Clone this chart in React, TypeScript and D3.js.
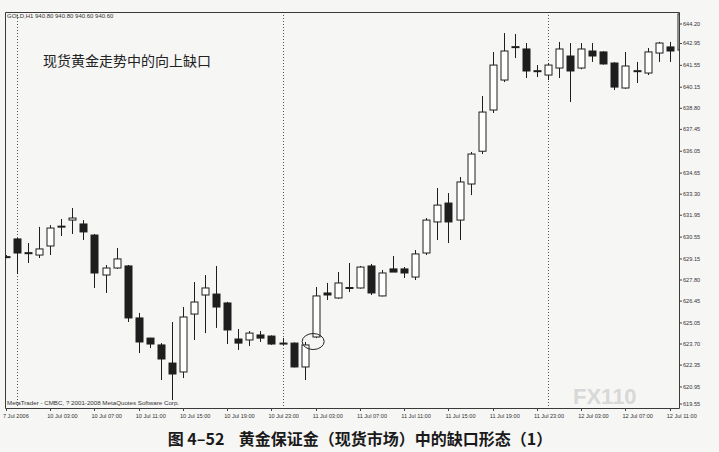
import React, { useRef, useEffect } from 'react';
import * as d3 from 'd3';

// hourly candles, index 0 = last bar of 7 Jul, index 1 = 10 Jul 00:00
const openPrices = [
  629.3, 630.43, 629.55, 629.4, 629.98, 631.2, 631.64, 631.39, 630.68, 628.12,
  628.57, 628.7, 625.37, 624.08, 623.64, 622.48, 621.91, 625.62, 626.84, 626.9,
  626.33, 624.02, 623.96, 624.28, 624.21, 623.76, 623.76, 622.23, 624.15, 626.97,
  626.65, 627.29, 627.29, 628.7, 626.78, 628.51, 628.51, 627.99, 629.53, 631.52,
  632.73, 631.64, 633.95, 636.05, 638.69, 640.61, 642.73, 642.6, 641.19, 640.93,
  641.38, 642.15, 641.38, 642.47, 642.41, 641.7, 640.1, 641.19, 641.06, 642.34,
  642.73, 642.53,
];
const highPrices = [
  629.4, 630.5, 630.17, 631.2, 631.32, 631.71, 632.41, 631.64, 630.75, 628.76,
  629.85, 628.76, 625.69, 624.1, 623.76, 625.11, 626.07, 627.67, 628.12, 628.7,
  626.4, 624.66, 624.53, 624.53, 624.25, 624.08, 623.8, 623.83, 627.35, 627.61,
  628.31, 628.89, 628.7, 628.83, 628.44, 629.34, 628.63, 629.72, 631.77, 633.69,
  633.37, 634.4, 636.0, 639.59, 642.41, 643.62, 643.56, 642.98, 641.57, 641.7,
  643.05, 642.98, 642.98, 642.98, 642.45, 641.75, 642.41, 641.77, 642.66, 643.05,
  643.05, 644.97,
];
const lowPrices = [
  629.2, 628.18, 628.89, 629.21, 629.4, 630.62, 630.75, 630.36, 627.29, 626.97,
  628.51, 625.11, 623.12, 623.44, 621.39, 620.11, 621.52, 623.96, 624.4, 624.73,
  623.7, 623.32, 623.57, 623.83, 623.65, 623.64, 622.2, 621.39, 624.08, 626.52,
  626.6, 627.03, 627.25, 626.84, 626.75, 628.31, 627.93, 627.8, 629.4, 630.36,
  630.17, 630.36, 633.24, 635.87, 638.5, 640.48, 642.02, 640.74, 640.8, 640.61,
  640.74, 639.2, 641.3, 641.77, 641.6, 639.97, 640.05, 640.42, 640.93, 641.77,
  641.77, 642.5,
];
const closePrices = [
  629.3, 629.53, 629.5, 629.79, 631.13, 631.25, 631.77, 630.88, 628.25, 628.57,
  629.15, 625.37, 623.83, 623.7, 622.74, 621.78, 625.43, 626.39, 627.29, 626.07,
  624.6, 623.76, 624.4, 624.08, 623.7, 623.76, 622.23, 623.64, 626.78, 626.84,
  627.61, 627.32, 628.63, 626.97, 628.25, 628.31, 628.25, 629.47, 631.64, 632.6,
  631.52, 634.08, 635.87, 638.56, 641.57, 642.47, 642.75, 641.19, 641.21, 641.57,
  642.6, 641.19, 642.6, 642.15, 641.64, 640.16, 641.51, 641.21, 642.41, 642.98,
  642.47, 644.84,
];

const xTickIndex = [0, 4, 8, 12, 16, 20, 24, 28, 32, 36, 40, 44, 48, 52, 56, 60];
const xTickLabels = [
  '7 Jul 2006', '10 Jul 03:00', '10 Jul 07:00', '10 Jul 11:00', '10 Jul 15:00',
  '10 Jul 19:00', '10 Jul 23:00', '11 Jul 03:00', '11 Jul 07:00', '11 Jul 11:00',
  '11 Jul 15:00', '11 Jul 19:00', '11 Jul 23:00', '12 Jul 03:00', '12 Jul 07:00',
  '12 Jul 11:00',
];
const daySeparators = [1, 25, 49];
const yTickLabels = [
  '644.20', '642.95', '641.55', '640.15', '638.80', '637.45', '636.05', '634.65',
  '633.30', '631.95', '630.55', '629.15', '627.80', '626.45', '625.05', '623.70',
  '622.35', '620.95', '619.55',
];
const gapBars = [27, 28];

const App = () => {
  const chartRef = useRef<SVGSVGElement | null>(null);
  const width = 719;
  const height = 452;
  const frame = { left: 5, right: 679, top: 12, bottom: 408 };

  useEffect(() => {
    document.body.style.margin = '0';
    if (!chartRef.current) return;
    const svg = d3.select(chartRef.current);
    svg.selectAll('*').remove();

    const xScale = d3.scaleLinear().domain([1, 49]).range([17, 548]);
    const yScale = d3.scaleLinear().domain([619.55, 644.2]).range([408.8, 24]);

    svg.append('rect').attr('width', width).attr('height', height).attr('fill', '#f6f6f5');

    svg
      .append('defs')
      .append('clipPath')
      .attr('id', 'plot-clip')
      .append('rect')
      .attr('x', frame.left)
      .attr('y', frame.top)
      .attr('width', frame.right - frame.left)
      .attr('height', frame.bottom - frame.top);

    // faint watermark, behind everything
    svg
      .append('text')
      .attr('x', 573)
      .attr('y', 404)
      .attr('font-size', 22)
      .attr('font-weight', 'bold')
      .attr('font-family', 'Liberation Sans, Arial, sans-serif')
      .attr('fill', '#d8d8d8')
      .text('FX110');

    // day separators
    svg
      .selectAll('.sep')
      .data(daySeparators)
      .enter()
      .append('line')
      .attr('x1', (d) => Math.round(xScale(d)) + 0.5)
      .attr('x2', (d) => Math.round(xScale(d)) + 0.5)
      .attr('y1', frame.top)
      .attr('y2', frame.bottom)
      .attr('stroke', '#555')
      .attr('stroke-dasharray', '1,2');

    // frame
    svg
      .append('path')
      .attr(
        'd',
        `M${frame.left + 0.5},${frame.bottom + 0.5} V${frame.top + 0.5} H${frame.right + 0.5} V${frame.bottom + 0.5} Z`
      )
      .attr('fill', 'none')
      .attr('stroke', '#3a3a3a');

    // candles
    const idx = d3.range(openPrices.length);
    const g = svg.append('g').attr('clip-path', 'url(#plot-clip)');
    const bodyW = 7;
    g.selectAll('.wick')
      .data(idx)
      .enter()
      .append('line')
      .attr('x1', (i) => Math.round(xScale(i)) + 0.5)
      .attr('x2', (i) => Math.round(xScale(i)) + 0.5)
      .attr('y1', (i) => yScale(highPrices[i]))
      .attr('y2', (i) => yScale(lowPrices[i]))
      .attr('stroke', '#1e1e1e')
      .attr('stroke-width', 1);
    g.selectAll('.body')
      .data(idx)
      .enter()
      .append('rect')
      .attr('x', (i) => Math.round(xScale(i)) - bodyW / 2 + 0.5)
      .attr('y', (i) => yScale(Math.max(openPrices[i], closePrices[i])))
      .attr('width', bodyW)
      .attr('height', (i) =>
        Math.max(1, Math.abs(yScale(openPrices[i]) - yScale(closePrices[i])))
      )
      .attr('fill', (i) => (closePrices[i] >= openPrices[i] ? '#ffffff' : '#1e1e1e'))
      .attr('stroke', '#1e1e1e')
      .attr('stroke-width', 1);

    // circle round the gap
    const gx = (xScale(gapBars[0]) + xScale(gapBars[1])) / 2 + 3;
    const gy = (yScale(highPrices[gapBars[0]]) + yScale(lowPrices[gapBars[1]])) / 2 + 1.5;
    svg
      .append('ellipse')
      .attr('cx', gx)
      .attr('cy', gy)
      .attr('rx', 11)
      .attr('ry', 8)
      .attr('fill', 'none')
      .attr('stroke', '#222')
      .attr('stroke-width', 1);

    // right price axis
    const yAxis = svg.append('g');
    yAxis
      .selectAll('line')
      .data(yTickLabels)
      .enter()
      .append('line')
      .attr('x1', frame.right)
      .attr('x2', frame.right + 3)
      .attr('y1', (d) => Math.min(yScale(+d), 404))
      .attr('y2', (d) => Math.min(yScale(+d), 404))
      .attr('stroke', '#444');
    yAxis
      .selectAll('text')
      .data(yTickLabels)
      .enter()
      .append('text')
      .attr('x', frame.right + 4)
      .attr('y', (d) => Math.min(yScale(+d), 404))
      .attr('dy', '0.35em')
      .attr('font-size', 5.6)
      .attr('font-family', 'Liberation Sans, Arial, sans-serif')
      .attr('fill', '#333')
      .text((d) => d);

    // bottom time axis
    const xAxis = svg.append('g');
    xAxis
      .selectAll('line')
      .data(xTickIndex)
      .enter()
      .append('line')
      .attr('x1', (i) => Math.round(xScale(i)) + 0.5)
      .attr('x2', (i) => Math.round(xScale(i)) + 0.5)
      .attr('y1', frame.bottom)
      .attr('y2', frame.bottom + 3)
      .attr('stroke', '#444');
    xAxis
      .selectAll('text')
      .data(xTickIndex)
      .enter()
      .append('text')
      .attr('x', (i) => xScale(i) - 3)
      .attr('y', 418)
      .attr('font-size', 5.6)
      .attr('font-family', 'Liberation Sans, Arial, sans-serif')
      .attr('fill', '#333')
      .text((_, k) => xTickLabels[k]);

    // texts
    svg
      .append('text')
      .attr('x', 7)
      .attr('y', 18)
      .attr('font-size', 6)
      .attr('font-family', 'Liberation Sans, Arial, sans-serif')
      .attr('fill', '#333')
      .text('GOLD,H1 940.80 940.80 940.60 940.60');
    svg
      .append('text')
      .attr('x', 7)
      .attr('y', 405)
      .attr('font-size', 6.2)
      .attr('font-family', 'Liberation Sans, Arial, sans-serif')
      .attr('fill', '#333')
      .text('MetaTrader - CMBC, ? 2001-2008 MetaQuotes Software Corp.');
    svg
      .append('text')
      .attr('x', 43)
      .attr('y', 66)
      .attr('font-size', 14)
      .attr('font-family', 'Noto Sans CJK SC, sans-serif')
      .attr('fill', '#222')
      .text('现货黄金走势中的向上缺口');
    svg
      .append('text')
      .attr('x', 360)
      .attr('y', 445)
      .attr('text-anchor', 'middle')
      .attr('font-size', 16)
      .attr('font-weight', 'bold')
      .attr('font-family', 'Noto Sans CJK SC, sans-serif')
      .attr('fill', '#1a1a1a')
      .text('图 4–52\u00a0\u00a0\u00a0\u00a0黄金保证金（现货市场）中的缺口形态（1）');
  }, []);

  return (
    <div style={{ position: 'absolute', left: 0, top: 0 }}>
      <svg ref={chartRef} width={width} height={height} />
    </div>
  );
};

export default App;
